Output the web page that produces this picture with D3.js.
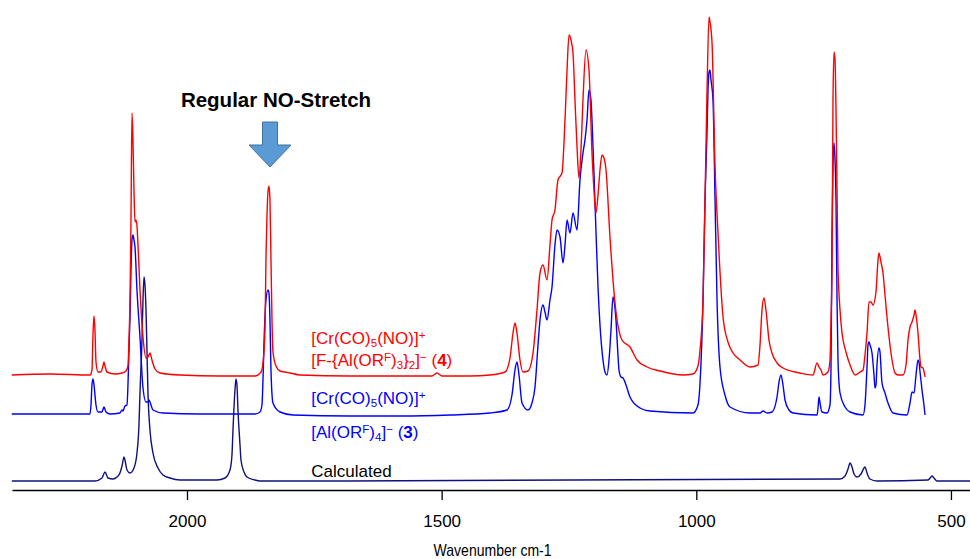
<!DOCTYPE html>
<html>
<head>
<meta charset="utf-8">
<script src="https://cdn.jsdelivr.net/npm/d3@7"></script>
<style>
  body { margin: 0; background: #fff; }
  svg { display: block; font-family: Arial, "Liberation Sans", sans-serif; }
</style>
</head>
<body>
<svg id="chart" width="970" height="559"></svg>
<script>
// spectra: [wavenumber cm-1, absorbance above own baseline]
const redSpectrum = [
  [2344,0],[2269,0.01],[2190.5,0],[2186.6,0.05],[2184.6,0.40],[2182.6,0.59],[2180.7,0.45],[2178.7,0.13],
  [2174.8,0.03],[2168.9,0.03],[2165,0.09],[2163,0.13],[2161,0.09],[2157.1,0.03],[2141.4,0.01],[2127.6,0.02],
  [2119.8,0.04],[2115.9,0.09],[2113.9,0.35],[2111.9,0.75],[2110,1.55],[2108,2.62],[2106.1,2.35],[2104.1,1.85],
  [2102.1,1.53],[2100.2,1.55],[2098.2,1.49],[2096.2,1.30],[2092.3,0.85],[2086.4,0.38],[2080.5,0.17],[2076.6,0.18],
  [2072.7,0.22],[2068.8,0.15],[2062.8,0.06],[2053,0.02],[2013.8,0],[1935.2,-0.01],[1866.5,-0.01],[1854.7,0.03],
  [1850.8,0.12],[1846.9,0.45],[1844.9,1.18],[1842.9,1.60],[1841,1.83],[1839,1.89],[1837.1,1.75],[1835.1,1.15],
  [1833.1,0.55],[1831.2,0.23],[1825.3,0.09],[1817.4,0.04],[1807.6,0.03],[1797.8,0.02],[1778.2,0],[1680,-0.01],
  [1581.8,-0.01],[1519,-0.01],[1509.2,0.02],[1499.3,-0.01],[1444.4,-0.01],[1405.1,0],[1375.6,0.03],[1365.8,0.17],
  [1359.9,0.42],[1356,0.52],[1352.1,0.42],[1346.2,0.15],[1340.3,0.03],[1330.5,0.04],[1320.6,0.22],[1312.8,0.65],
  [1306.9,1.02],[1301,1.10],[1293.1,0.95],[1287.3,1.30],[1283.3,1.55],[1277.5,1.65],[1271.6,1.95],[1263.7,2.02],
  [1257.8,2.55],[1253.8,3.05],[1249.9,3.40],[1246,3.35],[1242.1,3.22],[1238.2,2.75],[1234.2,2.28],[1230.3,1.97],
  [1226.4,2.25],[1222.5,2.75],[1216.6,3.25],[1210.7,3.05],[1204.8,2.22],[1200.9,1.85],[1197,1.62],[1193,1.80],
  [1189.1,2.05],[1185.2,2.20],[1181.2,2.17],[1177.3,2.05],[1169.5,1.38],[1159.6,0.72],[1145.9,0.35],[1130.2,0.28],
  [1116.4,0.15],[1096.8,0.08],[1071.3,0.04],[1026.1,0],[1006.5,0.01],[996.7,0.09],[992.7,0.25],[986.8,0.75],
  [982.9,1.75],[979,2.82],[975,3.58],[973.1,3.53],[969.1,3.32],[963.2,2.08],[957.4,1.42],[947.5,0.58],
  [937.8,0.33],[927.9,0.22],[914.2,0.15],[894.6,0.08],[878.9,0.10],[874.9,0.30],[871,0.65],[867.1,0.77],
  [863.2,0.65],[857.3,0.35],[851.4,0.22],[841.5,0.12],[829.8,0.07],[796.4,0.02],[770.9,0],[763,0.12],
  [759.1,0.08],[755.2,0.05],[751.2,0],[741.4,0.03],[737.5,0.15],[735.5,0.55],[733.5,1.08],[731.6,2.75],
  [729.6,3.23],[727.6,3.15],[725.7,2.65],[723.7,1.85],[721.8,1.08],[717.8,0.65],[713.9,0.42],[706.1,0.23],
  [698.1,0.10],[688.3,0],[678.6,0.03],[672.6,0.05],[668.8,0.20],[664.8,0.42],[660.9,0.73],[657,0.73],
  [653.1,0.70],[647.2,0.83],[643.2,1.15],[641.3,1.22],[637.4,1.13],[633.4,1.02],[629.5,0.80],[625.6,0.58],
  [619.7,0.30],[615.7,0.15],[609.8,0.02],[603.9,0],[594.2,0],[588.2,0.10],[584.3,0.35],[580.4,0.48],
  [576.4,0.53],[572.5,0.60],[570.6,0.65],[568.6,0.60],[564.7,0.42],[560.7,0.15],[558.8,0.08],[554.9,0.07],
  [550.9,-0.02]
];

const blueSpectrum = [
  [2344,0],[2269,0],[2190.5,0],[2188.5,0.09],[2186.6,0.29],[2184.6,0.35],[2182.6,0.29],[2178.7,0.09],
  [2174.8,0.02],[2167,0.02],[2163,0.07],[2159.1,0.02],[2151.2,0],[2131.6,0.01],[2127.6,0.04],[2125.7,0.03],
  [2121.8,0.08],[2117.8,0.09],[2115.9,0.29],[2113.9,0.64],[2111.9,0.97],[2110,1.44],[2108,1.74],[2106.1,1.79],
  [2104.1,1.74],[2102.1,1.67],[2098.2,1.24],[2092.3,0.77],[2086.4,0.26],[2080.5,0.12],[2076.6,0.12],[2074.6,0.14],
  [2070.7,0.09],[2066.8,0.04],[2047.1,0.01],[1974.5,0],[1866.5,0],[1856.7,0.02],[1852.8,0.09],[1850.8,0.34],
  [1848.8,0.71],[1844.9,1.14],[1841,1.24],[1839,1.21],[1837.1,0.94],[1835.1,0.44],[1831.2,0.11],[1817.4,0.02],
  [1791.9,-0.01],[1680,-0.02],[1581.8,-0.02],[1483.6,-0.01],[1405.1,0.01],[1371.7,0.04],[1361.9,0.19],[1356,0.44],
  [1352.1,0.52],[1348.1,0.39],[1342.2,0.11],[1330.5,0.04],[1322.6,0.11],[1316.7,0.27],[1310.8,0.69],[1306.9,0.94],
  [1301,1.09],[1297.1,1.02],[1293.1,0.94],[1287.3,1.14],[1283.3,1.27],[1277.5,1.69],[1273.5,1.84],[1267.6,1.77],
  [1261.7,1.51],[1257.8,1.69],[1253.8,1.94],[1248,1.81],[1242.1,2.01],[1234.2,1.84],[1228.4,2.34],[1222.5,2.61],
  [1218.6,2.74],[1214.6,2.94],[1210.7,3.24],[1206.8,3.14],[1204.8,2.94],[1198.9,2.11],[1193,1.27],[1189.1,0.89],
  [1183.2,0.54],[1179.3,0.42],[1175.3,0.39],[1171.4,0.54],[1167.5,0.84],[1163.6,1.17],[1161.6,1.14],[1157.7,0.94],
  [1153.8,0.59],[1151.8,0.44],[1147.8,0.37],[1143.9,0.36],[1138,0.29],[1130.2,0.17],[1110.5,0.06],[1090.9,0.03],
  [1006.5,0.01],[996.7,0.09],[992.7,0.31],[986.8,1.14],[982.9,2.14],[979,2.81],[977,3.24],[975,3.42],
  [973.1,3.44],[971.1,3.34],[967.2,3.14],[963.2,2.14],[959.3,1.14],[953.5,0.47],[943.7,0.19],[933.8,0.07],
  [894.6,0.01],[874.9,0.01],[869,0.03],[861.2,0.01],[851.4,0.02],[841.5,0.17],[837.6,0.32],[833.7,0.39],
  [829.8,0.29],[825.8,0.14],[818,0.04],[810.1,0.01],[763,-0.01],[761,0.06],[759.1,0.17],[757.1,0.11],
  [753.2,0.02],[743.4,0.01],[737.5,0.09],[735.5,0.47],[733.5,1.81],[731.6,2.49],[729.6,2.71],[727.6,2.54],
  [725.7,2.14],[723.7,1.14],[721.8,0.54],[717.8,0.21],[708,0.07],[698.1,0.02],[672.6,-0.01],[668.8,0.09],
  [664.8,0.47],[662.9,0.69],[660.9,0.72],[658.9,0.69],[655,0.61],[651.1,0.39],[649.1,0.26],[647.2,0.29],
  [645.2,0.49],[641.3,0.66],[639.3,0.62],[635.4,0.31],[629.5,0.21],[623.6,0.11],[613.8,0.01],[586.3,-0.01],
  [580.4,0.11],[576.4,0.22],[572.5,0.21],[568.6,0.39],[564.7,0.54],[562.8,0.52],[560.7,0.42],[556.8,0.24],
  [553,0.09],[550.9,-0.01]
];

const calcSpectrum = [
  [2344,0],[2180.7,0],[2166.9,0.03],[2161,0.09],[2155.1,0.03],[2145.3,0.02],[2137.5,0.04],[2131.6,0.08],
  [2127.6,0.15],[2123.7,0.24],[2121.8,0.21],[2117.8,0.11],[2111.9,0.08],[2104.1,0.13],[2098.2,0.28],[2094.3,0.56],
  [2092.3,0.88],[2088.4,1.41],[2086.4,1.81],[2084.4,2.04],[2082.5,1.96],[2080.5,1.71],[2078.6,1.31],[2076.6,0.88],
  [2072.7,0.51],[2066.8,0.28],[2057,0.13],[2047.1,0.06],[2033.4,0.03],[2013.8,0.01],[1941.1,0.01],[1925.4,0.03],
  [1915.6,0.11],[1911.7,0.26],[1909.7,0.51],[1905.8,0.91],[1903.8,1.02],[1901.9,0.96],[1899.9,0.71],[1895.9,0.36],
  [1894,0.21],[1888.1,0.09],[1882.2,0.04],[1866.5,0.01],[1856.7,0],[717.8,0.02],[708,0.05],[702.1,0.12],
  [698.1,0.18],[694.2,0.14],[690.3,0.07],[684.4,0.04],[676.6,0.07],[670.7,0.13],[668.8,0.14],[664.8,0.08],
  [658.9,0.02],[645.2,0],[545.1,0.01],[539.2,0.04],[537.2,0.05],[533.3,0.03],[527.4,0],[462.6,0]
];

const seriesNames = ["calc", "blue", "red"];
const seriesData = [calcSpectrum, blueSpectrum, redSpectrum];
const seriesOffsets = [0.09, 0.76, 1.15];
const seriesColors = ["#10107e", "#0000ff", "#ff0000"];

const xTicks = [2000, 1500, 1000, 500];

const width = 970, height = 559;
const svg = d3.select("#chart");

const x = d3.scaleLinear().domain([2343.6, 462.6]).range([12, 970]);
const y = d3.scaleLinear().domain([0, 4.8]).range([490, 10]);

// spectra
seriesData.forEach((data, i) => {
  const line = d3.line()
    .x(d => x(d[0]))
    .y(d => y(d[1] + seriesOffsets[i]))
    .curve(d3.curveMonotoneX);
  svg.append("path")
    .datum(data)
    .attr("class", "spec " + seriesNames[i])
    .attr("fill", "none")
    .attr("stroke", seriesColors[i])
    .attr("stroke-width", 1.4)
    .attr("stroke-linejoin", "round")
    .attr("d", line);
});

// x axis
const xAxis = svg.append("g")
  .attr("transform", `translate(0,${y(0)})`)
  .call(d3.axisBottom(x).tickValues(xTicks).tickFormat(d3.format("d"))
    .tickSize(10).tickSizeOuter(0).tickPadding(15));
xAxis.select(".domain").attr("stroke", "#000").attr("stroke-width", 1.6);
xAxis.selectAll(".tick line").attr("stroke", "#000").attr("stroke-width", 1.3);
xAxis.selectAll(".tick text")
  .attr("fill", "#000")
  .style("font-size", "17px")
  .style("font-family", "Arial, 'Liberation Sans', sans-serif");

svg.append("text")
  .attr("x", x(1400) - 59)
  .attr("y", 556)
  .attr("textLength", 118)
  .attr("lengthAdjust", "spacingAndGlyphs")
  .style("font-size", "17px")
  .text("Wavenumber cm-1");

// annotation: arrow + label
const arrowX = x(1837);
const arrow = d3.path();
arrow.moveTo(arrowX - 7.5, 122);
arrow.lineTo(arrowX + 7.5, 122);
arrow.lineTo(arrowX + 7.5, 145);
arrow.lineTo(arrowX + 21, 145);
arrow.lineTo(arrowX, 167);
arrow.lineTo(arrowX - 21, 145);
arrow.lineTo(arrowX - 7.5, 145);
arrow.closePath();
svg.append("path")
  .attr("d", arrow.toString())
  .attr("fill", "#5b9bd5")
  .attr("stroke", "#41719c")
  .attr("stroke-width", 1);

svg.append("text")
  .attr("x", arrowX + 6)
  .attr("y", 107)
  .attr("text-anchor", "middle")
  .style("font-size", "20.5px")
  .style("font-weight", "bold")
  .text("Regular NO-Stretch");

// compound labels built from pieces: [text, kind]
function richText(sel, parts, size) {
  parts.forEach(p => {
    const t = sel.append("tspan").text(p[0]);
    if (p[1] === "sub") t.style("font-size", (size * 0.68) + "px").attr("baseline-shift", "-25%");
    else if (p[1] === "sup") t.style("font-size", (size * 0.68) + "px").attr("baseline-shift", "45%");
    else if (p[1] === "bold") t.style("font-weight", "bold");
  });
}

const cationParts = [["[Cr(CO)"], ["5", "sub"], ["(NO)]"], ["+", "sup"]];
const anion4Parts = [["[F-{Al(OR"], ["F", "sup"], [")"], ["3", "sub"], ["}"], ["2", "sub"], ["]"], ["\u2212", "sup"], ["  ("], ["4", "bold"], [")"]];
const anion3Parts = [["[Al(OR"], ["F", "sup"], [")"], ["4", "sub"], ["]"], ["\u2212", "sup"], [" ("], ["3", "bold"], [")"]];

const labelX = x(1756);
const labels = [
  { parts: cationParts, y: 344, color: "#ff0000" },
  { parts: anion4Parts, y: 366, color: "#ff0000" },
  { parts: cationParts, y: 404, color: "#0000ff" },
  { parts: anion3Parts, y: 438, color: "#0000ff" }
];
labels.forEach(l => {
  const t = svg.append("text")
    .attr("x", labelX)
    .attr("y", l.y)
    .attr("fill", l.color)
    .style("font-size", "17px");
  richText(t, l.parts, 17);
});

svg.append("text")
  .attr("x", labelX)
  .attr("y", 477)
  .attr("fill", "#000")
  .style("font-size", "17px")
  .text("Calculated");
</script>
</body>
</html>
